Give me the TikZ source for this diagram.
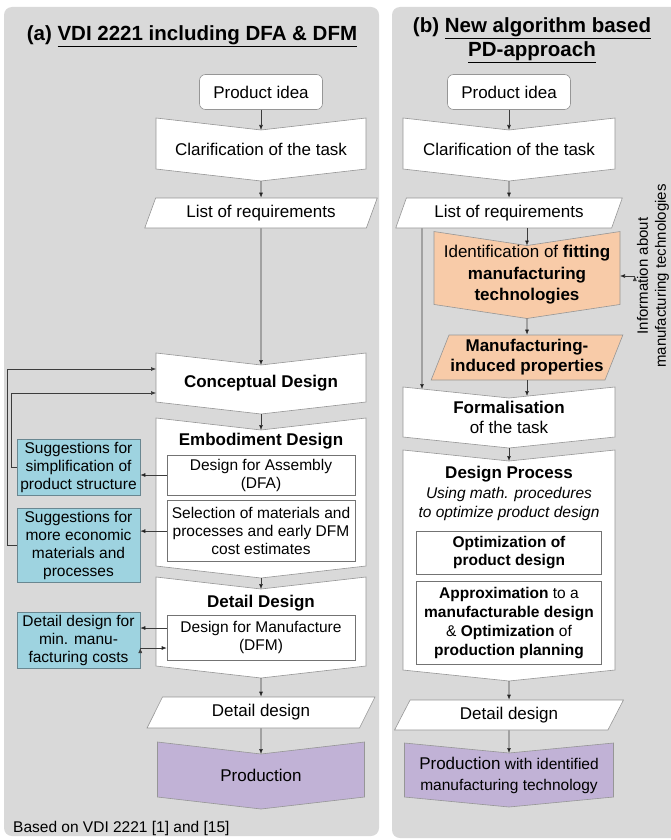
\documentclass[tikz,border=0pt]{standalone}
\usepackage{fontspec}
\setmainfont{Liberation Sans}
\usepackage{tikz}
\usetikzlibrary{arrows.meta, positioning, shapes.geometric, backgrounds}
\usepackage{xcolor}

\definecolor{panelgray}{RGB}{217,217,217}
\definecolor{linegray}{RGB}{150,150,150}
\definecolor{boxgray}{RGB}{115,115,115}
\definecolor{hintblue}{RGB}{158,211,224}
\definecolor{hintline}{RGB}{105,135,145}
\definecolor{techorange}{RGB}{248,203,168}
\definecolor{prodpurple}{RGB}{193,178,214}
\definecolor{arrowgray}{RGB}{60,60,60}

% chevron outline behind a node: node, depth, fill
\newcommand{\chevron}[3]{%
  \begin{scope}[on background layer]
    \filldraw[fill=#3, draw=linegray, line width=0.6pt]
      ([yshift=#2]#1.north west) -- (#1.north) -- ([yshift=#2]#1.north east)
      -- (#1.south east) -- ([yshift=-#2]#1.south) -- (#1.south west) -- cycle;
  \end{scope}}

\begin{document}
\begin{tikzpicture}[x=1pt,y=-1pt,>={Latex[length=5pt,width=4pt]},
    font=\fontsize{17}{20}\selectfont]
    \tikzstyle{chev}=[shape=rectangle,outer sep=0pt,inner sep=0pt,align=center]
    \tikzstyle{idea}=[shape=rectangle,rounded corners=6pt,draw=linegray,fill=white,line width=0.6pt,minimum width=123pt,minimum height=35pt]
    \tikzstyle{data}=[trapezium,trapezium left angle=64,trapezium right angle=116,trapezium stretches=true,draw=linegray,fill=white,line width=0.6pt,inner sep=0pt,minimum height=30pt,align=center]
    \tikzstyle{inbox}=[draw=boxgray,fill=white,line width=0.6pt,inner sep=0pt,minimum width=188pt,align=center,font=\fontsize{15.5}{18}\selectfont]
    \tikzstyle{hint}=[draw=hintline,fill=hintblue,line width=0.6pt,inner sep=0pt,minimum width=123pt,align=center,font=\fontsize{15.5}{18}\selectfont]
    \tikzstyle{link}=[->,draw=arrowgray,line width=0.6pt]

    \useasboundingbox (0,0) rectangle (670,840);
    \begin{scope}[on background layer]
        \fill[panelgray,rounded corners=8pt] (4,7) rectangle (379,836);
        \fill[panelgray,rounded corners=8pt] (392,7) rectangle (700,838);
    \end{scope}

    \node[font=\fontsize{20.5}{24}\selectfont\bfseries] (titleA) at (192,36) {(a) \underline{VDI 2221 including DFA \& DFM}};
    \node[font=\fontsize{20.5}{24}\selectfont\bfseries,align=center] (titleB) at (532,40) {(b) \underline{New algorithm based}\\\underline{PD-approach}};

    % (a) VDI 2221
    \node[idea] (ideaA) at (261,92) {Product idea};
    \node[chev,minimum width=210pt,minimum height=39pt] (clarA) at (261,149.5) {Clarification of the task};
    \chevron{clarA}{12pt}{white}
    \node[data,minimum width=233pt] (listA) at (261,213) {List of requirements};
    \node[chev,minimum width=210pt,minimum height=37pt,font=\fontsize{17}{20}\selectfont\bfseries] (concA) at (261,383.5) {Conceptual Design};
    \chevron{concA}{12pt}{white}
    \node[chev,minimum width=210pt,minimum height=136pt] (embA) at (261,498) {};
    \chevron{embA}{12pt}{white}
    \node[font=\fontsize{17}{20}\selectfont\bfseries] (embT) at (261,441) {Embodiment Design};
    \node[inbox,minimum height=40pt] (dfaA) at (261,475) {Design for Assembly\\(DFA)};
    \node[inbox,minimum height=61pt,below=5pt of dfaA] (selA) {Selection of materials and\\processes and early DFM\\cost estimates};
    \node[chev,minimum width=210pt,minimum height=77pt] (detA) at (261,627.5) {};
    \chevron{detA}{12pt}{white}
    \node[font=\fontsize{17}{20}\selectfont\bfseries] (detT) at (261,603) {Detail Design};
    \node[inbox,minimum height=45pt] (dfmA) at (261,637.5) {Design for Manufacture\\(DFM)};
    \node[data,minimum width=228pt,minimum height=31pt] (ddA) at (261,712.5) {Detail design};
    \node[chev,minimum width=207pt,minimum height=43pt] (prodA) at (261,775.5) {Production};
    \chevron{prodA}{12pt}{prodpurple}

    \node[hint,minimum height=56pt] (sug1) at (78.5,467) {Suggestions for\\simplification of\\product structure};
    \node[hint,minimum height=74pt,below=13pt of sug1] (sug2) {Suggestions for\\more economic\\materials and\\processes};
    \node[hint,minimum height=56pt,below=29pt of sug2] (sug3) {Detail design for\\min. manu-\\facturing costs};

    \node[anchor=west,inner sep=0pt,font=\fontsize{15.5}{18}\selectfont] (noteA) at (13,828) {Based on VDI 2221 [1] and [15]};

    % (b) new approach
    \node[idea] (ideaB) at (509,92) {Product idea};
    \node[chev,minimum width=212pt,minimum height=39pt] (clarB) at (509,149.5) {Clarification of the task};
    \chevron{clarB}{12pt}{white}
    \node[data,minimum width=227pt] (listB) at (509,213) {List of requirements};
    \node[chev,minimum width=186pt,minimum height=56pt,font=\fontsize{17}{21.5}\selectfont] (idB) at (527,275) {Identification of \textbf{fitting}\\\textbf{manufacturing}\\\textbf{technologies}};
    \chevron{idB}{14pt}{techorange}
    \node[data,fill=techorange,minimum width=192pt,minimum height=45pt,font=\fontsize{17}{20}\selectfont\bfseries] (manB) at (527,357.5) {Manufacturing-\\induced properties};
    \node[chev,minimum width=212pt,minimum height=39pt] (formB) at (509,417.5) {\textbf{Formalisation}\\of the task};
    \chevron{formB}{11pt}{white}
    \node[chev,minimum width=212pt,minimum height=209pt] (desB) at (509,565.5) {};
    \chevron{desB}{11pt}{white}
    \node[font=\fontsize{17}{20}\selectfont\bfseries] (desT) at (509,474) {Design Process};
    \node[align=center,font=\fontsize{15.5}{19}\selectfont\itshape] (desI) at (509,503.5) {Using math. procedures\\to optimize product design};
    \node[inbox,minimum width=185pt,minimum height=43pt,font=\fontsize{15.5}{18}\selectfont\bfseries] (optB) at (509,552.5) {Optimization of\\product design};
    \node[inbox,minimum width=185pt,minimum height=83pt,font=\fontsize{15.5}{19}\selectfont,below=7pt of optB] (appB) {\textbf{Approximation} to a\\\textbf{manufacturable design}\\\& \textbf{Optimization} of\\\textbf{production planning}};
    \node[data,minimum width=229pt] (ddB) at (509,715) {Detail design};
    \node[chev,minimum width=209pt,minimum height=44pt,font=\fontsize{15.5}{21}\selectfont] (prodB) at (509,775) {{\fontsize{17}{21}\selectfont Production} with identified\\manufacturing technology};
    \chevron{prodB}{10pt}{prodpurple}
    \node[rotate=90,align=center,inner sep=2pt,font=\fontsize{15}{18}\selectfont] (infoB) at (653,276) {Information about\\manufacturing technologies};

    \path[link]
    (ideaA) edge (clarA)
    ([yshift=-12pt]clarA.south) edge (listA.north)
    (listA.south) edge (concA.north)
    ([yshift=-12pt]concA.south) edge (embA.north)
    ([yshift=-12pt]embA.south) edge (detA.north)
    ([yshift=-12pt]detA.south) edge (ddA.north)
    (ddA.south) edge (prodA.north)
    (dfaA.west) edge (dfaA.west -| sug1.east)
    (selA.west) edge (selA.west -| sug2.east)
    ([yshift=9.5pt]dfmA.west) edge ([yshift=9.5pt]dfmA.west -| sug3.east)
    ([yshift=-10.5pt]dfmA.west -| sug3.east) edge ([yshift=-10.5pt]dfmA.west)
    ;
    \draw[link] (sug1.west) -- ++(-5,0) |- ([yshift=-9.5pt]concA.west);
    \draw[link] (sug2.west) -- ++(-9,0) |- ([yshift=14.5pt]concA.west);

    \path[link]
    (ideaB) edge (clarB)
    ([yshift=-12pt]clarB.south) edge (listB.north)
    (idB.north |- listB.south) edge (idB.north)
    ([yshift=-14pt]idB.south) edge (manB.north)
    (manB.south) edge ([yshift=2pt]formB.north -| manB.south)
    ([xshift=-87pt]listB.south) edge ([xshift=-87pt,yshift=9pt]formB.north)
    ([yshift=-11pt]formB.south) edge (desB.north)
    ([yshift=-11pt]desB.south) edge (ddB.north)
    (ddB.south) edge (prodB.north)
    (infoB.north) edge (infoB.north -| idB.east)
    ;
\end{tikzpicture}
\end{document}
